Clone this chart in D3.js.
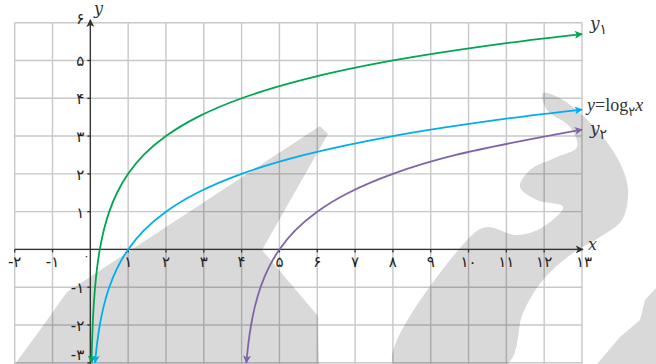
<!DOCTYPE html>
<html><head><meta charset="utf-8">
<script src="https://cdn.jsdelivr.net/npm/d3@7"></script>
<style>html,body{margin:0;padding:0;background:#fff;}svg{display:block;}</style>
</head><body>
<svg id="c" width="656" height="364"></svg>
<script>
// ---- data ----
const xTicks = [-2,-1,0,1,2,3,4,5,6,7,8,9,10,11,12,13];
const xTickLabels = ["-۲","-۱","۰","۱","۲","۳","۴","۵","۶","۷","۸","۹","۱۰","۱۱","۱۲","۱۳"];
const yTicks = [-3,-2,-1,0,1,2,3,4,5,6];
const yTickLabels = ["-۳","-۲","-۱","","۱","۲","۳","۴","۵","۶"];

const greenX = [0.031,0.044,0.0625,0.088,0.125,0.177,0.25,0.354,0.5,0.707,1,1.41,2,2.83,4,5.66,8,11,13];
const greenY = [-3,-2.5,-2,-1.5,-1,-0.5,0,0.5,1,1.5,2,2.5,3,3.5,4,4.5,5,5.46,5.7];
const blueX = [0.125,0.177,0.25,0.354,0.5,0.707,1,1.41,2,2.83,4,5.66,8,11,13];
const blueY = [-3,-2.5,-2,-1.5,-1,-0.5,0,0.5,1,1.5,2,2.5,3,3.46,3.7];
const purpleX = [4.125,4.177,4.25,4.354,4.5,4.707,5,5.41,6,6.83,8,9.66,13];
const purpleY = [-3,-2.5,-2,-1.5,-1,-0.5,0,0.5,1,1.5,2,2.5,3.17];

const seriesNames = ["y1","log","y2"];
const seriesColors = ["#00a651","#00aeef","#8064a8"];

// ---- setup ----
const svg = d3.select("#c");
const x = d3.scaleLinear().domain([-2,13]).range([14.7,582]);
const y = d3.scaleLinear().domain([-3,6]).range([362.8,22.7]);

// grid
const grid = svg.append("g").attr("stroke","#c8c8c8").attr("stroke-width",1.4);
xTicks.forEach(v=>{
  grid.append("line").attr("x1",x(v)).attr("x2",x(v)).attr("y1",y(6)).attr("y2",364);
});
yTicks.forEach(v=>{
  grid.append("line").attr("x1",x(-2)).attr("x2",x(13)).attr("y1",y(v)).attr("y2",y(v));
});

// watermark (decorative)
const wm = svg.append("g").attr("fill","#000").attr("fill-opacity",0.15);
const wmShapes = [
  [[320,126],[328,134],[262,250],[318,316],[319,364],[15,364],[40,330],[67,292]],
  [[393,364],[470,237],[487,227],[517,235],[543,227],[563,207],[537,200],[520,187],[530,170],[557,157],[577,147],[570,127],[547,110],[543,93],[563,100],[597,130],[620,163],[628,190],[622,220],[600,237],[573,253],[543,280],[523,313],[507,364]],
  [[597,364],[620,337],[640,320],[645,300],[656,288],[656,364]]
];
wmShapes.forEach((s,i)=>{
  wm.append("path").attr("d", (i===1? d3.line().curve(d3.curveCatmullRomClosed) : d3.line().curve(d3.curveLinearClosed))(s));
});

// arrow markers
const defs = svg.append("defs");
function mk(id,color){
  defs.append("marker").attr("id",id).attr("viewBox","0 0 10 10").attr("refX",9).attr("refY",5)
    .attr("markerWidth",9).attr("markerHeight",8).attr("markerUnits","userSpaceOnUse")
    .attr("orient","auto-start-reverse")
    .append("path").attr("d","M0,0 L10,5 L0,10 L2.5,5 Z").attr("fill",color);
}
mk("ax","#333");
seriesColors.forEach((c,i)=>mk("m"+i,c));

// axes
const axes = svg.append("g").attr("stroke","#333").attr("stroke-width",1.3);
axes.append("line").attr("x1",x(-2)).attr("x2",x(13)+1).attr("y1",y(0)).attr("y2",y(0)).attr("marker-end","url(#ax)");
axes.append("line").attr("x1",x(0)).attr("x2",x(0)).attr("y1",364).attr("y2",y(6)-3).attr("marker-end","url(#ax)");
// tick marks
xTicks.forEach(v=>{ if(v!==0 && v!==13) axes.append("line").attr("x1",x(v)).attr("x2",x(v)).attr("y1",y(0)).attr("y2",y(0)+3); });
yTicks.forEach(v=>{ if(v!==0 && v!==6) axes.append("line").attr("x1",x(0)).attr("x2",x(0)-3).attr("y1",y(v)).attr("y2",y(v)); });

// tick labels
const lab = svg.append("g").attr("font-family","DejaVu Sans, sans-serif").attr("fill","#222").attr("font-size",15);
xTicks.forEach((v,i)=>{
  if(v===0){
    lab.append("text").attr("x",x(0)-4).attr("y",y(0)+11).attr("text-anchor","middle").attr("font-size",11).text(xTickLabels[i]);
  } else {
    lab.append("text").attr("x",x(v)+(v===13?2:0)).attr("y",y(0)+18).attr("text-anchor","middle").text(xTickLabels[i]);
  }
});
yTicks.forEach((v,i)=>{
  if(!yTickLabels[i]) return;
  const yy = v===6 ? y(v)+1 : (v===-3 ? 360 : y(v)+6);
  lab.append("text").attr("x",x(0)-6).attr("y",yy).attr("text-anchor","end").text(yTickLabels[i]);
});

// curves
const line = d3.line().x(d=>x(d[0])).y(d=>y(d[1])).curve(d3.curveCatmullRom.alpha(0.5));
const seriesData = [d3.zip(greenX,greenY), d3.zip(blueX,blueY), d3.zip(purpleX,purpleY)];
seriesData.forEach((d,i)=>{
  svg.append("path").attr("d",line(d)).attr("fill","none").attr("stroke",seriesColors[i]).attr("stroke-width",1.8)
    .attr("marker-start","url(#m"+i+")").attr("marker-end","url(#m"+i+")");
});

// axis names
const serif = "DejaVu Serif, Liberation Serif, serif";
svg.append("text").attr("x",94).attr("y",14).attr("font-family",serif).attr("font-style","italic").attr("font-size",16).attr("fill","#333").text("y");
svg.append("text").attr("x",588).attr("y",250).attr("font-family",serif).attr("font-style","italic").attr("font-size",16).attr("fill","#333").text("x");

// curve labels
function yLabel(px,py,sub){
  const t = svg.append("text").attr("x",px).attr("y",py).attr("font-family",serif).attr("font-size",17).attr("fill","#333");
  t.append("tspan").attr("font-style","italic").text("y");
  t.append("tspan").attr("font-family","DejaVu Sans, sans-serif").attr("font-size",14).attr("dy",5).text(sub);
}
yLabel(590,29,"۱");
yLabel(590,134,"۲");
const tl = svg.append("text").attr("x",587).attr("y",111).attr("font-family","Liberation Serif, serif").attr("font-size",18).attr("fill","#333");
tl.append("tspan").attr("font-style","italic").text("y");
tl.append("tspan").text("=log");
tl.append("tspan").attr("font-family","DejaVu Sans, sans-serif").attr("font-size",13).attr("dy",5).text("۲");
tl.append("tspan").attr("font-style","italic").attr("dy",-5).text("x");
</script>
</body></html>
